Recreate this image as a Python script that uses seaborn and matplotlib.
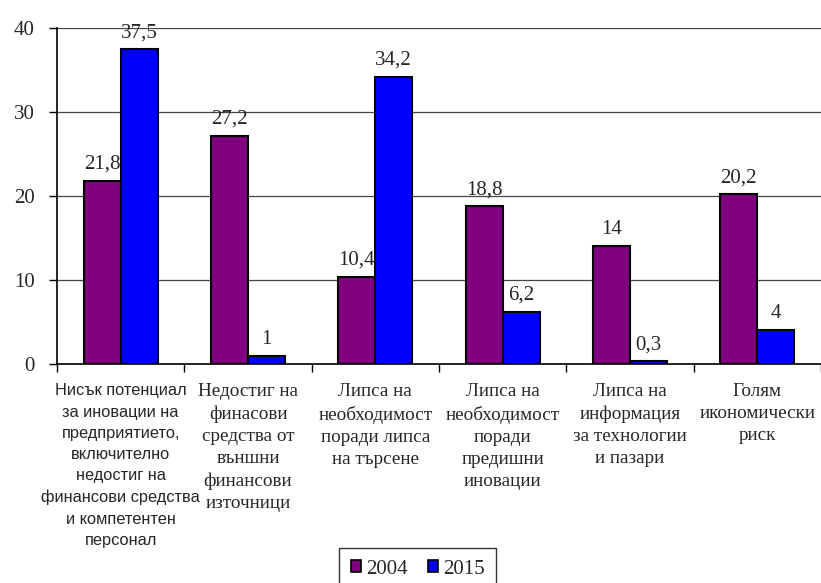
import numpy as np
import pandas as pd
import matplotlib
matplotlib.use("Agg")
import matplotlib.pyplot as plt
import seaborn as sns
from matplotlib.patches import Patch

categories = [
    "Нисък потенциал\nза иновации на\nпредприятието,\nвключително\nнедостиг на\nфинансови средства\nи компетентен\nперсонал",
    "Недостиг на\nфинасови\nсредства от\nвъншни\nфинансови\nизточници",
    "Липса на\nнеобходимост\nпоради липса\nна търсене",
    "Липса на\nнеобходимост\nпоради\nпредишни\nиновации",
    "Липса на\nинформация\nза технологии\nи пазари",
    "Голям\nикономически\nриск",
]
years = ["2004", "2015"]
values_2004 = [21.8, 27.2, 10.4, 18.8, 14, 20.2]
values_2015 = [37.5, 1, 34.2, 6.2, 0.3, 4]
colors = ["#800080", "#0000FF"]

sns.set_theme(style="white")
plt.rcParams["font.family"] = ["Liberation Serif", "DejaVu Serif"]

df = pd.DataFrame({
    "cat": list(range(len(categories))) * 2,
    "year": [years[0]] * len(categories) + [years[1]] * len(categories),
    "value": values_2004 + values_2015,
})

fig = plt.figure(figsize=(8.21, 5.83), dpi=100)
ax = fig.add_axes([57 / 821, 219 / 583, 1 - 57 / 821, (364 - 28) / 583])

sns.barplot(data=df, x="cat", y="value", hue="year", palette=colors,
            saturation=1, width=0.58, gap=0, edgecolor="black", linewidth=1.5,
            legend=False, ax=ax, zorder=3)

ax.set_ylim(0, 40)
ax.set_xlim(-0.5, len(categories) - 0.5)
ax.set_yticks([0, 10, 20, 30, 40])
ax.yaxis.grid(True, color="#444444", linewidth=0.9, zorder=0)
ax.xaxis.grid(False)
ax.set_axisbelow(True)
for s in ["top", "right"]:
    ax.spines[s].set_visible(False)
for s in ["left", "bottom"]:
    ax.spines[s].set_color("black")
    ax.spines[s].set_linewidth(1.2)
ax.set_xlabel("")
ax.set_ylabel("")

ax.tick_params(axis="y", which="major", left=True, length=6, width=1, color="black",
               labelsize=15, pad=10)
ax.set_xticks(range(len(categories)))
ax.set_xticklabels(categories, fontsize=13.8, linespacing=1.38)
ax.tick_params(axis="x", which="major", length=0, pad=14)
ax.set_xticks(np.arange(-0.5, len(categories), 1), minor=True)
ax.tick_params(axis="x", which="minor", bottom=True, length=6, width=1, color="black")
for lab in ax.get_xticklabels():
    lab.set_verticalalignment("top")
first = ax.get_xticklabels()[0]
first.set_fontfamily(["Liberation Sans", "DejaVu Sans"])
first.set_fontsize(11.8)
first.set_linespacing(1.52)

def fmt(v):
    return f"{v:g}".replace(".", ",")

for cont, vals in zip(ax.containers, [values_2004, values_2015]):
    ax.bar_label(cont, labels=[fmt(v) for v in vals], padding=5, fontsize=15)

handles = [Patch(facecolor=c, edgecolor="black", linewidth=1.2) for c in colors]
leg = fig.legend(handles, years, loc="lower center", bbox_to_anchor=(0.509, -0.012),
                 ncol=2, frameon=True, fancybox=False, fontsize=15,
                 handlelength=0.5, handleheight=0.5, handletextpad=0.25,
                 columnspacing=0.95, borderpad=0.55, borderaxespad=0,
                 edgecolor="black")
leg.get_frame().set_linewidth(1.0)

fig.savefig("out.png", dpi=100)
